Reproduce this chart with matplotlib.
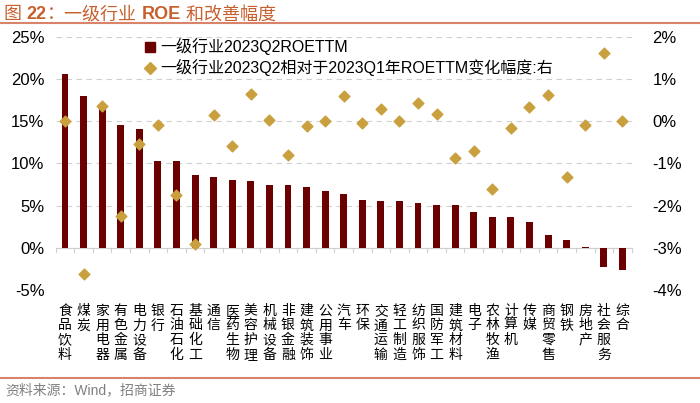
import matplotlib
matplotlib.use("Agg")
import matplotlib.pyplot as plt
from matplotlib.lines import Line2D
from matplotlib.ticker import FuncFormatter
import numpy as np

plt.rcParams["font.family"] = ["Liberation Sans", "Noto Sans CJK SC", "DejaVu Sans"]

industries = [
    "食品饮料", "煤炭", "家用电器", "有色金属", "电力设备", "银行", "石油石化",
    "基础化工", "通信", "医药生物", "美容护理", "机械设备", "非银金融", "建筑装饰",
    "公用事业", "汽车", "环保", "交通运输", "轻工制造", "纺织服饰", "国防军工",
    "建筑材料", "电子", "农林牧渔", "计算机", "传媒", "商贸零售", "钢铁",
    "房地产", "社会服务", "综合",
]
roe_ttm = [
    20.6, 18.0, 16.7, 14.55, 14.1, 10.25, 10.25, 8.6, 8.35, 8.07, 7.95, 7.5,
    7.4, 7.24, 6.77, 6.37, 5.66, 5.58, 5.55, 5.3, 5.03, 5.03, 4.2, 3.68, 3.6,
    3.05, 1.5, 0.9, 0.1, -2.25, -2.65,
]
roe_change = [
    0.0, -3.63, 0.36, -2.24, -0.53, -0.09, -1.74, -2.91, 0.16, -0.59, 0.65,
    0.04, -0.8, -0.12, 0.0, 0.61, -0.05, 0.29, 0.0, 0.43, 0.17, -0.87, -0.7,
    -1.61, -0.17, 0.33, 0.62, -1.31, -0.09, 1.61, 0.0,
]

BAR = "#6B0000"
GOLD = "#C9A03D"
ACCENT = "#D9836A"
TITLE = "#C8602E"

fig = plt.figure(figsize=(7, 4.03), dpi=100)
ax = fig.add_axes([0.0796, 0.2804, 0.8228, 0.6278])
ax2 = ax.twinx()

x = np.arange(len(industries))
ax.bar(x, roe_ttm, width=0.37, color=BAR, zorder=3)
ax2.scatter(x, roe_change, marker="D", s=30, color=GOLD, zorder=4)

ax.set_xlim(-0.5, len(industries) - 0.5)
ax.set_ylim(-5, 25)
ax.set_yticks(np.arange(-5, 26, 5))
ax2.set_ylim(-4, 2)
ax2.set_yticks(np.arange(-4, 3, 1))
pct = FuncFormatter(lambda v, _: f"{v:.0f}%")
ax.yaxis.set_major_formatter(pct)
ax2.yaxis.set_major_formatter(pct)

for a in (ax, ax2):
    for s in a.spines.values():
        s.set_visible(False)
    a.tick_params(axis="y", length=0, labelsize=12, pad=8)
ax2.tick_params(axis="y", pad=15)

ax.yaxis.grid(True, linestyle=(0, (5, 4)), color="#D0D0D0", linewidth=0.8, zorder=0)
ax.axhline(0, color="#D0D0D0", linewidth=0.8, zorder=2)
for b in np.arange(-0.5, len(industries), 1):
    ax.plot([b, b], [0, -0.45], color="#D0D0D0", linewidth=0.8, zorder=2, clip_on=False)

ax.set_xticks(x)
ax.set_xticklabels(["\n".join(n) for n in industries], fontsize=10,
                   linespacing=1.05, va="top", family=["Noto Sans CJK SC"])
ax.tick_params(axis="x", length=0, pad=10)

handles = [
    Line2D([], [], marker="s", linestyle="", color=BAR, markersize=7),
    Line2D([], [], marker="D", linestyle="", color=GOLD, markersize=6),
]
labels = ["一级行业2023Q2ROETTM", "一级行业2023Q2相对于2023Q1年ROETTM变化幅度:右"]
ax.legend(handles, labels, loc="upper left", bbox_to_anchor=(0.145, 1.02),
          frameon=False, fontsize=11.5, handlelength=0.6, handletextpad=0.3,
          labelspacing=0.25, borderaxespad=0)

# title with mixed weights, each piece placed after the previous one
parts = [("图 ", "normal"), ("22", "bold"), ("：", "normal"),
         ("一级行业 ", "normal"), ("ROE", "bold"), (" 和改善幅度", "normal")]
prev = fig.text(0.005, 0.952, parts[0][0], fontsize=13, color=TITLE,
                fontweight=parts[0][1], va="baseline")
for txt, w in parts[1:]:
    prev = fig.add_artist(plt.Annotation(txt, xy=(1, 0), xycoords=prev,
                                         fontsize=13, color=TITLE,
                                         fontweight=w, va="bottom"))

fig.add_artist(Line2D([0.0, 1.0], [0.943, 0.943], color=ACCENT, linewidth=1.5))
fig.add_artist(Line2D([0.0, 1.0], [0.062, 0.062], color=ACCENT, linewidth=1.5))
fig.text(0.008, 0.032, "资料来源：Wind，招商证券", fontsize=10, color="#808080", va="center")

fig.savefig("out.png", dpi=100)
